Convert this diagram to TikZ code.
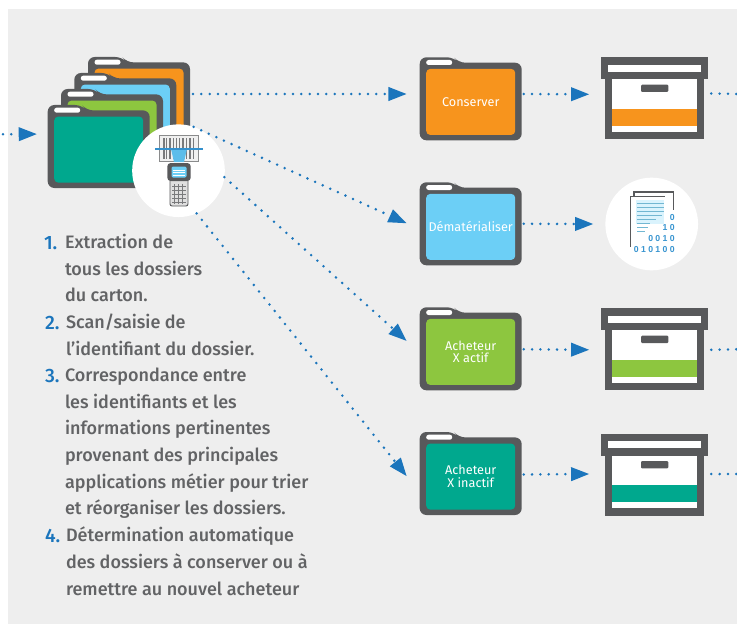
\documentclass[tikz,border=0pt]{standalone}
\usepackage{fontspec}
\setmainfont{Fira Sans Medium}[Numbers=Lining]
\newfontfamily\labelfont{Fira Sans}[Numbers=Lining]
\newfontfamily\digitfont{Liberation Sans}
\usetikzlibrary{arrows.meta,calc}
\definecolor{panelgray}{HTML}{EEEEEE}
\definecolor{darkgray}{HTML}{58595B}
\definecolor{textgray}{HTML}{626365}
\definecolor{flowblue}{HTML}{1B75BC}
\definecolor{cOrange}{HTML}{F7941D}
\definecolor{cBlue}{HTML}{6CCFF6}
\definecolor{cGreen}{HTML}{8DC63F}
\definecolor{cTeal}{HTML}{00A88E}
\tikzset{
  x=0.75pt,y=-0.75pt,
  flowline/.style={draw=flowblue,line width=2.1pt,line cap=round,dash pattern=on 0pt off 6.25pt},
  flow/.style={flowline,-{Triangle[length=13.7pt,width=10pt,fill=flowblue]}},
  anchorbox/.style={inner sep=0pt,outer sep=0pt,minimum width=76.5pt,minimum height=62.25pt},
  cratebox/.style={inner sep=0pt,outer sep=0pt,minimum width=80.25pt,minimum height=61.5pt},
  inner folder/.style={inner sep=0pt,outer sep=0pt,rounded corners=3pt,minimum width=66.75pt,minimum height=49.5pt,
     text=white,align=center,font=\labelfont\fontsize{9.5}{9.5}\selectfont},
  steptext/.style={anchor=north west,inner sep=0pt,outer sep=0pt,align=left,text=textgray,
     font=\fontsize{13.5}{20}\selectfont},
  stepnum/.style={anchor=base west,inner sep=0pt,outer sep=0pt,text=flowblue,
     font=\fontsize{14.5}{20}\selectfont},
  roundicon/.style={circle,fill=white,inner sep=0pt,outer sep=0pt,minimum size=69.5pt},
  digitrow/.style={anchor=east,inner sep=0pt,text=flowblue!65!cBlue,font=\digitfont\bfseries\fontsize{6.5}{6.5}\selectfont},
}
% folder: name, x, y (top left), colour, label
\newcommand{\folderat}[5]{%
  \begin{scope}[shift={(#2,#3)}]
    \fill[darkgray,rounded corners=5pt] (0,83) -- (0,0) -- (34,0) -- (39,5.4) -- (102,5.4) -- (102,83) -- cycle;
    \node[anchorbox] (#1) at (51,41.5) {};
    \node[inner folder,fill=#4] (#1-in) at (51,44.6) {#5};
    \fill[white,rounded corners=1.8pt] (6.5,2.7) rectangle (32.5,7.7);
  \end{scope}}
% crate: name, x, y, band colour
\newcommand{\crateat}[4]{%
  \begin{scope}[shift={(#2,#3)}]
    \fill[darkgray] (4,22) rectangle (103,82);
    \fill[white] (11,22) rectangle (95.7,74.7);
    \fill[#4] (11,51.7) rectangle (95.7,68.7);
    \fill[darkgray] (0,0) rectangle (107,22);
    \fill[white] (7,7.4) rectangle (99.7,14.7);
    \fill[darkgray,rounded corners=0.8pt] (39.7,27.4) rectangle (67,34.7);
    \node[cratebox] (#1) at (53.5,41) {};
  \end{scope}}
\begin{document}
\begin{tikzpicture}
\useasboundingbox (0,0) rectangle (737,624);
\fill[panelgray] (8,9) rectangle (737,624);

% stack of folders
\folderat{stackD}{88}{57}{cOrange}{}
\folderat{stackC}{74.3}{73}{cBlue}{}
\folderat{stackB}{61}{89}{cGreen}{}
\folderat{stackA}{47.7}{105}{cTeal}{}

% scanner circle
\node[roundicon] (scan) at (178.5,170.7) {};
\fill[gray!12] (159,135) rectangle (198.3,161.7);
\draw[darkgray!70,line width=0.7pt] (159,135) rectangle (198.3,161.7);
\foreach \bx/\bw in {163/1.5,166/0.8,169/2,173/0.8,176/1.2,179/0.8,182/2,186/1,189/1.6,193/1}
  \fill[darkgray!80] (\bx,137.5) rectangle ++(\bw,21);
\fill[cBlue!80!flowblue] (171,149) -- (187,149) -- (184,162) -- (174,162) -- cycle;
\draw[flowblue!70!cBlue,line width=1pt] (155,149) -- (203,149);
\fill[gray!25,rounded corners=1.5pt] (170,178) rectangle (188,206);
\draw[darkgray,line width=0.7pt,rounded corners=1.5pt] (170,178) rectangle (188,206);
\foreach \ky in {186,190,194,198,202}
  \draw[darkgray!80,line width=0.5pt] (172,\ky) -- (186,\ky);
\foreach \kx in {174,178,182}
  \draw[darkgray!80,line width=0.5pt] (\kx,184) -- (\kx,204);
\fill[darkgray,rounded corners=2.5pt] (167.3,163) rectangle (190.7,181);
\fill[cBlue,rounded corners=1pt] (171.5,166.5) rectangle (186.5,177.5);
\foreach \ly in {170,172.5,175}
  \draw[white,line width=0.4pt] (173,\ly) -- (185,\ly);

% action folders
\folderat{conserver}{419.7}{57.3}{cOrange}{Conserver}
\folderat{demat}{419.7}{182.3}{cBlue}{D\'emat\'erialiser}
\folderat{actif}{419.7}{307.3}{cGreen}{Acheteur\\X actif}
\folderat{inactif}{419.7}{432}{cTeal}{Acheteur\\X inactif}

% crates
\crateat{crateA}{601.3}{57.3}{cOrange}
\crateat{crateB}{601.3}{308.3}{cGreen}
\crateat{crateC}{601.3}{433.7}{cTeal}

% digitised circle
\node[roundicon] (digit) at (651.7,224) {};
\draw[darkgray,line width=1.1pt] (634,198) -- (634,192) -- (673.7,192) -- (673.7,210);
\fill[white] (630.3,196.7) rectangle (668,247);
\draw[darkgray,line width=1.1pt] (630.3,246.7) -- (630.3,196.7) -- (665.3,196.7);
\fill[cBlue!25] (636,200) rectangle (664,224);
\foreach \ly/\lx in {203/664,207/664,211/664,215/662,219/656,223/650,227/648,231/645}
  \draw[cBlue!70!gray,line width=0.5pt] (637,\ly) -- (\lx,\ly);
\def\dg{\hspace{1.8pt}}
\node[digitrow] (d1) at (675,217.5) {0};
\node[digitrow] (d2) at (675,227.5) {1\dg 0};
\node[digitrow] (d3) at (675,238.5) {0\dg 0\dg 1\dg 0};
\node[digitrow] (d4) at (675,249.5) {0\dg 1\dg 0\dg 1\dg 0\dg 0};

% connectors
\coordinate (inStart) at (3,134.3);
\draw[flow] (inStart) -- ([shift={(-10.7,-12.4)}]stackA.west);
\draw[flow] ([shift={(3,-4.5)}]stackD.east) -- ([shift={(-13,-4.8)}]conserver.west);
\draw[flow] ([shift={(2,-4.8)}]conserver.east) -- ([shift={(-12,-4)}]crateA.west);
\draw[flow] (scan.71) -- ([shift={(-13,-0.5)}]demat.west);
\draw[flow] ([shift={(2,0)}]demat.east) -- ([shift={(-12,0)}]digit.west);
\draw[flow] (scan.-8) -- ([shift={(-13,-7.8)}]actif.west);
\draw[flow] ([shift={(2,0.5)}]actif.east) -- ([shift={(-12,0.5)}]crateB.west);
\draw[flow] (scan.-67) -- ([shift={(-13,2.7)}]inactif.west);
\draw[flow] ([shift={(2,1)}]inactif.east) -- ([shift={(-12,-0.7)}]crateC.west);
\coordinate (outA) at (737,94);
\coordinate (outB) at (737,349.3);
\coordinate (outC) at (737,474);
\draw[flowline] ([shift={(3,-4.8)}]crateA.east) -- (outA);
\draw[flowline] ([shift={(3,0.5)}]crateB.east) -- (outB);
\draw[flowline] ([shift={(3,-0.7)}]crateC.east) -- (outC);

% text
\node[stepnum] (n1) at (44,249) {1.};
\node[stepnum] (n2) at (45,329) {2.};
\node[stepnum] (n3) at (45,382.7) {3.};
\node[stepnum] (n4) at (45,542) {4.};
\node[steptext] (t1) at (65,234) {Extraction de\\tous les dossiers\\du carton.};
\node[steptext] (t2) at (66,314) {Scan/saisie de\\l'identifiant du dossier.};
\node[steptext] (t3) at (65,368) {Correspondance entre\\les identifiants et les\\informations pertinentes\\provenant des principales\\applications m\'etier pour trier\\et r\'eorganiser les dossiers.};
\node[steptext] (t4) at (66,527) {D\'etermination automatique\\des dossiers \`a conserver ou \`a\\remettre au nouvel acheteur};
\end{tikzpicture}
\end{document}
